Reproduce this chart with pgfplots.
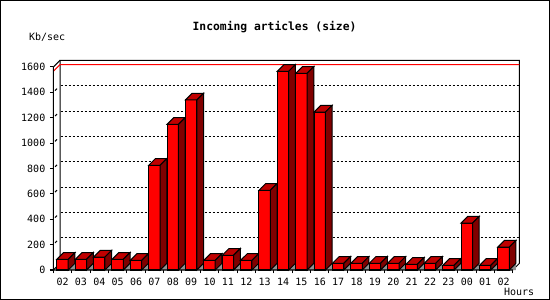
\documentclass[border=0pt]{standalone}
\usepackage{pgfplots}
\usepackage{pgfplotstable}
\pgfplotsset{compat=1.18}
\usepackage{fontspec}
\setmainfont{DejaVu Sans Mono}
\definecolor{barfront}{HTML}{FF0000}
\definecolor{bartop}{HTML}{C00000}
\definecolor{barside}{HTML}{800000}
\definecolor{floorgray}{HTML}{909090}
\pgfplotstableread{
x v
0 84
1 84
2 102
3 84
4 76
5 825
6 1148
7 1340
8 76
9 116
10 76
11 628
12 1566
13 1550
14 1245
15 53
16 53
17 53
18 53
19 45
20 53
21 37
22 370
23 37
24 181
}\datatable
\def\dx{0.365}
\def\dy{52.8}
\def\hw{0.31}
\newcommand\drawbar[1]{%
  \pgfplotstablegetelem{#1}{v}\of\datatable
  \pgfmathsetmacro\vv{\pgfplotsretval}%
  \pgfmathsetmacro\vt{\vv+\dy}%
  \pgfmathsetmacro\xa{#1-\hw}%
  \pgfmathsetmacro\xb{#1+\hw}%
  \pgfmathsetmacro\xc{#1-\hw+\dx}%
  \pgfmathsetmacro\xd{#1+\hw+\dx}%
  \edef\next{%
    \noexpand\addplot[fill=floorgray, draw=none] coordinates {(\xb,0) (\xd,\dy) (\xd,0)} -- cycle;
    \noexpand\addplot[fill=barfront, draw=black, line width=0.75pt, line join=miter] coordinates {(\xa,0) (\xa,\vv) (\xb,\vv) (\xb,0)} -- cycle;
    \noexpand\addplot[fill=bartop, draw=black, line width=0.75pt, line join=miter] coordinates {(\xa,\vv) (\xc,\vt) (\xd,\vt) (\xb,\vv)} -- cycle;
    \noexpand\addplot[fill=barside, draw=black, line width=0.75pt, line join=miter] coordinates {(\xb,0) (\xb,\vv) (\xd,\vt) (\xd,\dy)} -- cycle;
  }\next
}
\newcommand\gridline[1]{%
  \pgfmathsetmacro\ga{#1+13.4}%
  \pgfmathsetmacro\gb{#1+29}%
  \pgfmathsetmacro\gc{#1+52.8}%
  \edef\next{%
    \noexpand\addplot[black, line width=0.75pt] coordinates {(-0.407,\ga) (-0.3,\gb)};
    \noexpand\addplot[black, line width=0.75pt, dash pattern=on 1.5pt off 1.5pt] coordinates {(-0.1,\gc) (24.865,\gc)};
  }\next
}
\begin{document}
\begin{tikzpicture}
\useasboundingbox (0,0) rectangle (412.5pt,225pt);
\fill[white] (0,0) rectangle (412.5pt,225pt);
\draw[line width=0.75pt] (0.375pt,0.375pt) rectangle (412.125pt,224.625pt);
\begin{axis}[
  at={(40pt,22.5pt)}, anchor=south west,
  scale only axis, width=349.6pt, height=157.3pt,
  xmin=-0.5, xmax=24.865, ymin=0, ymax=1652.8,
  clip=false,
  axis line style={draw=none},
  xtick={-0.5,0.5,...,24.5},
  x tick label as interval,
  xticklabels={02,03,04,05,06,07,08,09,10,11,12,13,14,15,16,17,18,19,20,21,22,23,00,01,02},
  ytick={0,200,400,600,800,1000,1200,1400,1600},
  xtick pos=left, ytick pos=left,
  tick align=outside,
  major tick length=2.5pt,
  tick style={black, line width=0.75pt},
  ticklabel style={font=\fontsize{7.5}{9}\selectfont},
  /pgf/number format/assume math mode=true,
  /pgf/number format/1000 sep={},
]
% back wall frame
\addplot[black, line width=0.75pt] coordinates {(-0.5,0) (-0.135,52.8) (-0.135,1652.8) (24.865,1652.8) (24.865,52.8) (24.5,0)};
% grid lines in back plane
\pgfplotsinvokeforeach{200,400,600,800,1000,1200,1400}{\gridline{#1}}
% maximum line
\addplot[red, line width=0.75pt] coordinates {(-0.5,1566) (-0.135,1618.8) (24.865,1618.8)};
% bars
\pgfplotsinvokeforeach{0,1,2,3,4,5,6,7,8,9,10,11,12,13,14,15,16,17,18,19,20,21,22,23,24}{\drawbar{#1}}
% front frame
\addplot[black, line width=0.75pt] coordinates {(-0.135,1652.8) (-0.5,1600) (-0.5,0) (24.5,0)};
\end{axis}
\node[anchor=base, font=\fontsize{8.5}{10}\selectfont\bfseries] at (205.9pt,202pt) {Incoming articles (size)};
\node[anchor=base, font=\fontsize{7.5}{9}\selectfont] at (35.4pt,194.5pt) {Kb/sec};
\node[anchor=base, font=\fontsize{7.5}{9}\selectfont] at (389.4pt,3.2pt) {Hours};
\end{tikzpicture}
\end{document}
